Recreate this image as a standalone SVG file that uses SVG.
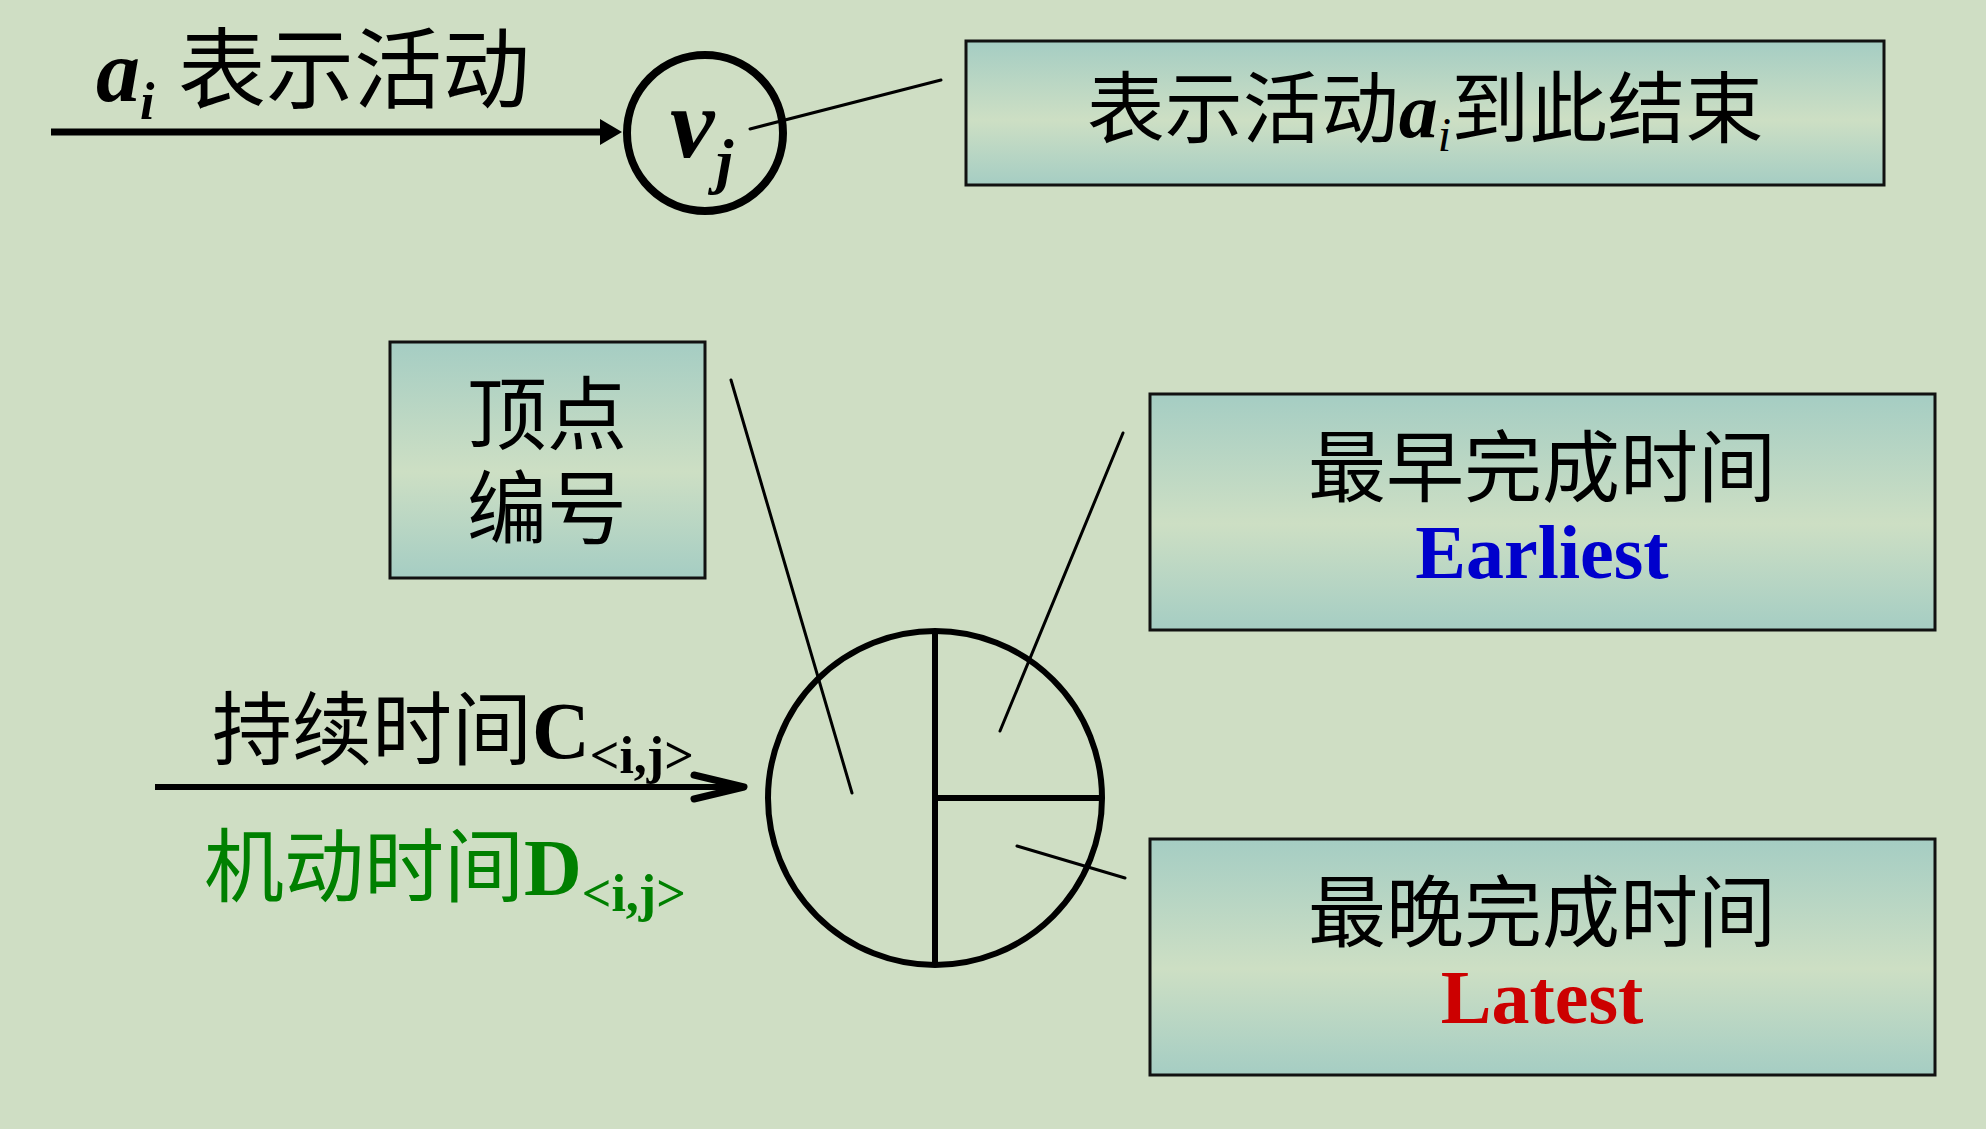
<svg xmlns="http://www.w3.org/2000/svg" width="1986" height="1129" viewBox="0 0 1986 1129">
<style>
.bg{fill:#cfdec4}
.box{fill:url(#boxGrad);stroke:#111;stroke-width:3}
.t{font-family:"Liberation Serif","Noto Sans CJK SC",serif;fill:#000}
.lead{stroke:#000;stroke-width:3;fill:none;stroke-linecap:round}
.ring{fill:none;stroke:#000}
</style>
<defs>
<linearGradient id="boxGrad" x1="0" y1="0" x2="0" y2="1">
<stop offset="0" stop-color="#a5cdc3"/>
<stop offset="0.55" stop-color="#cddfc4"/>
<stop offset="1" stop-color="#a5cdc3"/>
</linearGradient>
<marker id="arrFilled" markerUnits="userSpaceOnUse" viewBox="0 0 22 26" markerWidth="22" markerHeight="26" refX="4" refY="13" orient="auto">
<path d="M0,0 L22,13 L0,26 z" fill="#000"/>
</marker>
<marker id="arrOpen" markerUnits="userSpaceOnUse" viewBox="-58 -18 62 36" markerWidth="62" markerHeight="36" refX="0" refY="0" orient="auto" overflow="visible">
<path d="M-50,-12 L0,0 L-50,12" fill="none" stroke="#000" stroke-width="7" stroke-linecap="round" stroke-linejoin="round"/>
</marker>
</defs>
<rect class="bg" x="0" y="0" width="1986" height="1129"/>

<g id="connectors">
<line x1="51" y1="132" x2="604" y2="132" stroke="#000" stroke-width="7" marker-end="url(#arrFilled)"/>
<line x1="155" y1="787" x2="744" y2="787" stroke="#000" stroke-width="6" marker-end="url(#arrOpen)"/>
<line class="lead" x1="750" y1="129" x2="941" y2="80"/>
<line class="lead" x1="731" y1="380" x2="852" y2="793"/>
<line class="lead" x1="1123" y1="433" x2="1000" y2="731"/>
<line class="lead" x1="1017" y1="846" x2="1125" y2="878"/>
</g>

<g id="label-activity">
<text class="t" y="101" font-size="88"><tspan x="96" font-style="italic" font-weight="bold">a</tspan><tspan font-size="52" font-style="italic" font-weight="bold" dy="18">i</tspan><tspan x="178" dy="-18">表示活动</tspan></text>
</g>

<g id="node-vj">
<circle class="ring" cx="705" cy="133" r="78" stroke-width="8"/>
<text class="t" x="670" y="157" font-size="100" font-style="italic" font-weight="bold">v</text>
<text class="t" x="716" y="182" font-size="62" font-style="italic" font-weight="bold">j</text>
</g>

<g id="box-end">
<rect class="box" x="966" y="41" width="918" height="144"/>
<text class="t" x="1425" y="137" font-size="78" text-anchor="middle">表示活动<tspan font-style="italic" font-weight="bold">a</tspan><tspan font-style="italic" font-size="48" dy="14">i</tspan><tspan dy="-14">到此结束</tspan></text>
</g>

<g id="box-vertex">
<rect class="box" x="390" y="342" width="315" height="236"/>
<text class="t" x="547" y="443" font-size="80" text-anchor="middle">顶点</text>
<text class="t" x="547" y="537" font-size="80" text-anchor="middle">编号</text>
</g>

<g id="label-duration">
<text class="t" x="212" y="758" font-size="80">持续时间<tspan font-weight="bold">C</tspan><tspan font-weight="bold" font-size="52" dy="15">&lt;i,j&gt;</tspan></text>
</g>

<g id="label-slack">
<text class="t" x="204" y="895" font-size="80" style="fill:#008000">机动时间<tspan font-weight="bold">D</tspan><tspan font-weight="bold" font-size="52" dy="16">&lt;i,j&gt;</tspan></text>
</g>

<g id="node-event">
<circle class="ring" cx="935" cy="798" r="167" stroke-width="6"/>
<line x1="935" y1="631" x2="935" y2="965" stroke="#000" stroke-width="6"/>
<line x1="935" y1="798" x2="1102" y2="798" stroke="#000" stroke-width="6"/>
</g>

<g id="box-earliest">
<rect class="box" x="1150" y="394" width="785" height="236"/>
<text class="t" x="1542" y="496" font-size="78" text-anchor="middle">最早完成时间</text>
<text class="t" x="1542" y="578" font-size="76" font-weight="bold" text-anchor="middle" style="fill:#0000cc">Earliest</text>
</g>

<g id="box-latest">
<rect class="box" x="1150" y="839" width="785" height="236"/>
<text class="t" x="1542" y="941" font-size="78" text-anchor="middle">最晚完成时间</text>
<text class="t" x="1542" y="1023" font-size="76" font-weight="bold" text-anchor="middle" style="fill:#cc0000">Latest</text>
</g>
</svg>
